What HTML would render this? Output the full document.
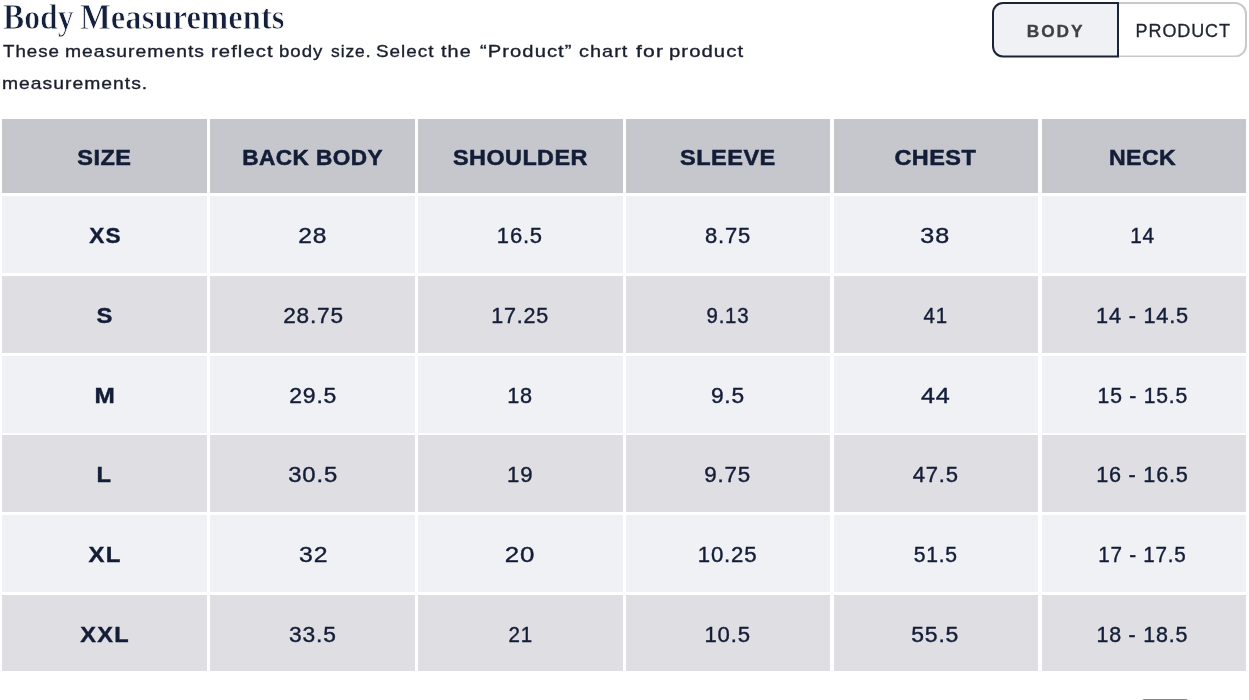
<!DOCTYPE html>
<html><head><meta charset="utf-8">
<style>
html,body{margin:0;padding:0;background:#fff;}
body{width:1249px;height:700px;position:relative;overflow:hidden;font-family:"Liberation Sans",sans-serif;color:#131d37;}
.abs{position:absolute;}
#title{-webkit-text-stroke:0.8px #fff;left:3px;top:-2.4px;font-family:"Liberation Serif",serif;font-weight:bold;font-size:35px;line-height:40px;white-space:nowrap;color:#14203c;width:300px;height:40px;}
#sub{left:0;top:35.7px;font-size:17px;line-height:32px;-webkit-text-stroke:0.35px #1a1f2e;letter-spacing:0.9px;width:800px;height:64px;color:#1a1f2e;}
.w{position:absolute;white-space:nowrap;transform-origin:0 0;}
#tog{left:992px;top:2px;width:255px;height:55px;transform-origin:0 0;transform:scaleY(1.0073);}
#b1{left:0;top:0;width:127px;height:55px;box-sizing:border-box;border:2px solid #1b2337;border-radius:11px 0 0 11px;background:#f0f1f5;}
#b2{left:126px;top:0;width:128.8px;height:55px;box-sizing:border-box;border:2px solid #c9c9cb;border-left:none;border-radius:0 12px 12px 0;background:#fff;}
.bt{position:absolute;top:0;height:56px;line-height:58px;white-space:nowrap;}
.c{position:absolute;text-align:center;white-space:nowrap;}
.c span{position:relative;display:inline-block;}
.h{line-height:78px;background:#c6c7cc;font-weight:bold;font-size:21.4px;letter-spacing:0.4px;-webkit-text-stroke:0.5px #131d37;}
.r{line-height:81.6px;font-size:22px;letter-spacing:0.8px;-webkit-text-stroke:0.4px #131d37;}
.o{background:#f0f1f5;}
.e{background:#dfdee3;}
.s{font-weight:bold;letter-spacing:1.2px;}
#pill{left:1140.5px;top:698.7px;width:48px;height:20px;border-radius:4px;background:#858585;}
#wrap{position:absolute;left:0;top:0;width:1249px;height:700px;will-change:transform;}
</style></head><body>
<div id="wrap">
<div id="title" class="abs"><span class="w" style="left:-0.3px;transform:scaleX(0.906)">Body</span><span class="w" style="left:76.9px;transform:scaleX(0.934)">Measurements</span></div>
<div id="sub" class="abs"><span class="w" style="left:2.70px;top:0px;transform:scaleX(1.102)">These</span><span class="w" style="left:64.70px;top:0px;transform:scaleX(1.136)">measurements</span><span class="w" style="left:210.80px;top:0px;transform:scaleX(1.191)">reflect</span><span class="w" style="left:279.31px;top:0px;transform:scaleX(1.096)">body</span><span class="w" style="left:331.47px;top:0px;transform:scaleX(1.024)">size.</span><span class="w" style="left:375.60px;top:0px;transform:scaleX(1.110)">Select</span><span class="w" style="left:441.10px;top:0px;transform:scaleX(1.166)">the</span><span class="w" style="left:479.60px;top:0px;transform:scaleX(1.186)">“Product”</span><span class="w" style="left:579.09px;top:0px;transform:scaleX(1.169)">chart</span><span class="w" style="left:635.50px;top:0px;transform:scaleX(1.244)">for</span><span class="w" style="left:668.70px;top:0px;transform:scaleX(1.192)">product</span><span class="w" style="left:2.40px;top:32px;transform:scaleX(1.135)">measurements.</span></div>
<div id="tog" class="abs">
<div id="b2" class="abs"></div><div id="b1" class="abs"></div>
<div class="bt" style="left:34.8px;font-size:17.3px;font-weight:bold;color:#3f4045;letter-spacing:1.9px;-webkit-text-stroke:0.3px #3f4045;">BODY</div>
<div class="bt" style="left:143.6px;font-size:18px;color:#1f2430;letter-spacing:0.9px;-webkit-text-stroke:0.3px #1f2430;">PRODUCT</div>
</div>
<div class="c h" style="left:2.10px;width:204.90px;top:118.80px;height:74.65px"><span style="transform:translate(-0.21px,0.0px) scaleX(1.099)">SIZE</span></div>
<div class="c h" style="left:210.40px;width:204.40px;top:118.80px;height:74.65px"><span style="transform:translate(0.10px,0.0px) scaleX(1.057)">BACK BODY</span></div>
<div class="c h" style="left:418.20px;width:204.40px;top:118.80px;height:74.65px"><span style="transform:translate(-0.18px,0.0px) scaleX(1.093)">SHOULDER</span></div>
<div class="c h" style="left:626.00px;width:204.40px;top:118.80px;height:74.65px"><span style="transform:translate(-0.50px,0.0px) scaleX(1.101)">SLEEVE</span></div>
<div class="c h" style="left:833.80px;width:204.40px;top:118.80px;height:74.65px"><span style="transform:translate(-0.95px,0.0px) scaleX(1.097)">CHEST</span></div>
<div class="c h" style="left:1041.60px;width:204.20px;top:118.80px;height:74.65px"><span style="transform:translate(-1.59px,0.0px) scaleX(1.080)">NECK</span></div>
<div class="c r o s" style="left:2.10px;width:204.90px;top:196.05px;height:77.16px"><span style="transform:translate(0.74px,-1.0px) scaleX(1.026)">XS</span></div>
<div class="c r o" style="left:210.40px;width:204.40px;top:196.05px;height:77.16px"><span style="transform:translate(-0.16px,-1.0px) scaleX(1.115)">28</span></div>
<div class="c r o" style="left:418.20px;width:204.40px;top:196.05px;height:77.16px"><span style="transform:translate(-0.15px,-1.0px) scaleX(0.999)">16.5</span></div>
<div class="c r o" style="left:626.00px;width:204.40px;top:196.05px;height:77.16px"><span style="transform:translate(-0.05px,-1.0px) scaleX(0.998)">8.75</span></div>
<div class="c r o" style="left:833.80px;width:204.40px;top:196.05px;height:77.16px"><span style="transform:translate(-0.86px,-1.0px) scaleX(1.143)">38</span></div>
<div class="c r o" style="left:1041.60px;width:204.20px;top:196.05px;height:77.16px"><span style="transform:translate(-1.51px,-1.0px) scaleX(0.946)">14</span></div>
<div class="c r e s" style="left:2.10px;width:204.90px;top:275.81px;height:77.16px"><span style="transform:translate(0.13px,-1.0px) scaleX(1.080)">S</span></div>
<div class="c r e" style="left:210.40px;width:204.40px;top:275.81px;height:77.16px"><span style="transform:translate(0.96px,-1.0px) scaleX(1.027)">28.75</span></div>
<div class="c r e" style="left:418.20px;width:204.40px;top:275.81px;height:77.16px"><span style="transform:translate(-0.36px,-1.0px) scaleX(0.978)">17.25</span></div>
<div class="c r e" style="left:626.00px;width:204.40px;top:275.81px;height:77.16px"><span style="transform:translate(-0.07px,-1.0px) scaleX(0.929)">9.13</span></div>
<div class="c r e" style="left:833.80px;width:204.40px;top:275.81px;height:77.16px"><span style="transform:translate(-0.35px,-1.0px) scaleX(0.931)">41</span></div>
<div class="c r e" style="left:1041.60px;width:204.20px;top:275.81px;height:77.16px"><span style="transform:translate(-1.51px,-1.0px) scaleX(0.987)">14 - 14.5</span></div>
<div class="c r o s" style="left:2.10px;width:204.90px;top:355.57px;height:77.16px"><span style="transform:translate(0.45px,-1.0px) scaleX(1.107)">M</span></div>
<div class="c r o" style="left:210.40px;width:204.40px;top:355.57px;height:77.16px"><span style="transform:translate(0.19px,-1.0px) scaleX(1.045)">29.5</span></div>
<div class="c r o" style="left:418.20px;width:204.40px;top:355.57px;height:77.16px"><span style="transform:translate(-0.05px,-1.0px) scaleX(0.984)">18</span></div>
<div class="c r o" style="left:626.00px;width:204.40px;top:355.57px;height:77.16px"><span style="transform:translate(-0.55px,-1.0px) scaleX(1.033)">9.5</span></div>
<div class="c r o" style="left:833.80px;width:204.40px;top:355.57px;height:77.16px"><span style="transform:translate(-0.20px,-1.0px) scaleX(1.143)">44</span></div>
<div class="c r o" style="left:1041.60px;width:204.20px;top:355.57px;height:77.16px"><span style="transform:translate(-1.26px,-1.0px) scaleX(0.960)">15 - 15.5</span></div>
<div class="c r e s" style="left:2.10px;width:204.90px;top:435.33px;height:77.16px"><span style="transform:translate(0.16px,-1.0px) scaleX(1.076)">L</span></div>
<div class="c r e" style="left:210.40px;width:204.40px;top:435.33px;height:77.16px"><span style="transform:translate(0.18px,-1.0px) scaleX(1.085)">30.5</span></div>
<div class="c r e" style="left:418.20px;width:204.40px;top:435.33px;height:77.16px"><span style="transform:translate(0.19px,-1.0px) scaleX(1.005)">19</span></div>
<div class="c r e" style="left:626.00px;width:204.40px;top:435.33px;height:77.16px"><span style="transform:translate(-0.33px,-1.0px) scaleX(1.015)">9.75</span></div>
<div class="c r e" style="left:833.80px;width:204.40px;top:435.33px;height:77.16px"><span style="transform:translate(-0.22px,-1.0px) scaleX(1.002)">47.5</span></div>
<div class="c r e" style="left:1041.60px;width:204.20px;top:435.33px;height:77.16px"><span style="transform:translate(-1.65px,-1.0px) scaleX(0.983)">16 - 16.5</span></div>
<div class="c r o s" style="left:2.10px;width:204.90px;top:515.09px;height:77.16px"><span style="transform:translate(0.81px,-1.0px) scaleX(1.087)">XL</span></div>
<div class="c r o" style="left:210.40px;width:204.40px;top:515.09px;height:77.16px"><span style="transform:translate(0.64px,-1.0px) scaleX(1.125)">32</span></div>
<div class="c r o" style="left:418.20px;width:204.40px;top:515.09px;height:77.16px"><span style="transform:translate(0.05px,-1.0px) scaleX(1.176)">20</span></div>
<div class="c r o" style="left:626.00px;width:204.40px;top:515.09px;height:77.16px"><span style="transform:translate(-0.94px,-1.0px) scaleX(1.010)">10.25</span></div>
<div class="c r o" style="left:833.80px;width:204.40px;top:515.09px;height:77.16px"><span style="transform:translate(-0.27px,-1.0px) scaleX(0.959)">51.5</span></div>
<div class="c r o" style="left:1041.60px;width:204.20px;top:515.09px;height:77.16px"><span style="transform:translate(-1.63px,-1.0px) scaleX(0.939)">17 - 17.5</span></div>
<div class="c r e s" style="left:2.10px;width:204.90px;top:594.85px;height:76.65px"><span style="transform:translate(0.98px,-1.0px) scaleX(1.070)">XXL</span></div>
<div class="c r e" style="left:210.40px;width:204.40px;top:594.85px;height:76.65px"><span style="transform:translate(-0.09px,-1.0px) scaleX(1.037)">33.5</span></div>
<div class="c r e" style="left:418.20px;width:204.40px;top:594.85px;height:76.65px"><span style="transform:translate(0.66px,-1.0px) scaleX(0.934)">21</span></div>
<div class="c r e" style="left:626.00px;width:204.40px;top:594.85px;height:76.65px"><span style="transform:translate(-0.37px,-1.0px) scaleX(1.007)">10.5</span></div>
<div class="c r e" style="left:833.80px;width:204.40px;top:594.85px;height:76.65px"><span style="transform:translate(-0.83px,-1.0px) scaleX(1.045)">55.5</span></div>
<div class="c r e" style="left:1041.60px;width:204.20px;top:594.85px;height:76.65px"><span style="transform:translate(-1.74px,-1.0px) scaleX(0.974)">18 - 18.5</span></div>
<div id="pill" class="abs"></div>
</div>
</body></html>
